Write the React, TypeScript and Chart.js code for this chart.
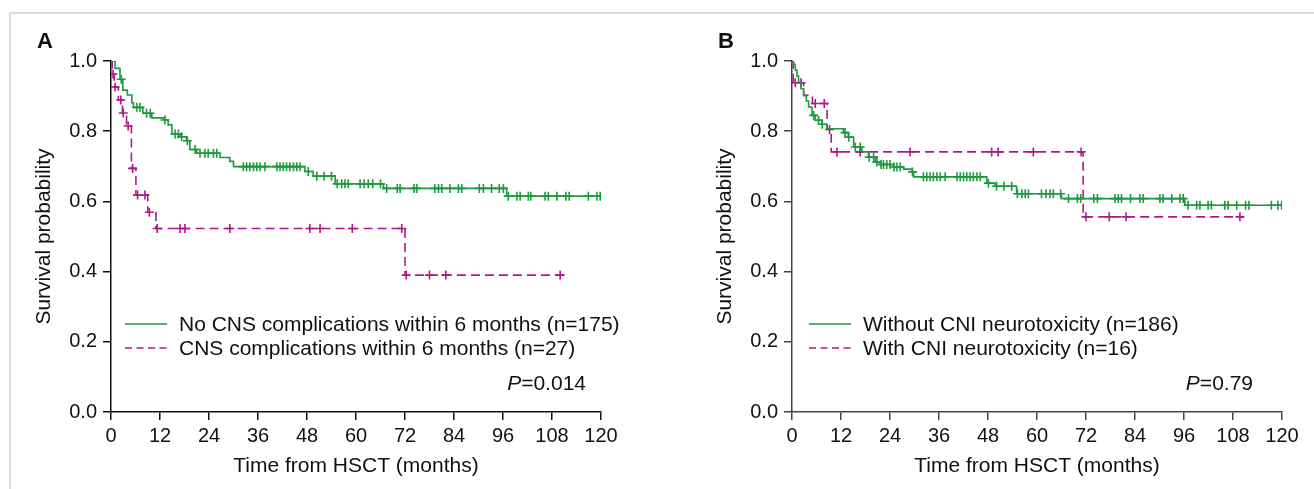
import React, { useEffect, useRef } from "react";
import { Chart, registerables } from "chart.js";

Chart.register(...registerables);

// ---------- axis ticks ----------
const X_TICKS = [0, 12, 24, 36, 48, 60, 72, 84, 96, 108, 120];
const Y_TICKS = [0, 0.2, 0.4, 0.6, 0.8, 1.0];

// ---------- Panel A ----------
const A_GREEN_T = [0, 1.0, 2.2, 2.9, 4.0, 5.1, 5.5, 7.8, 10.0, 13.1, 14.0, 14.9, 16.9, 18.5, 19.3, 21.0, 26.7, 29.1, 30.0, 47.5, 49.5, 54.9, 66.7, 96.9];
const A_GREEN_S = [1.0, 0.979, 0.948, 0.917, 0.903, 0.881, 0.868, 0.851, 0.838, 0.832, 0.818, 0.792, 0.784, 0.773, 0.748, 0.737, 0.725, 0.714, 0.699, 0.685, 0.672, 0.65, 0.637, 0.615];
const A_GREEN_END = 120;
const A_GREEN_CENSOR = [2.5, 6.3, 7.1, 8.7, 9.6, 13.2, 15.7, 16.5, 17.3, 18.7, 20.6, 21.8, 23.0, 23.8, 25.1, 25.9, 32.4, 33.2, 34.0, 34.9, 35.7, 36.5, 37.7, 40.6, 41.4, 42.2, 43.0, 43.8, 44.7, 45.5, 46.3, 48.3, 50.4, 52.2, 54.0, 55.4, 56.5, 57.3, 58.1, 61.0, 62.0, 63.0, 64.1, 66.0, 67.5, 70.1, 70.8, 74.2, 74.9, 79.3, 80.2, 81.0, 83.0, 85.1, 85.9, 90.2, 91.2, 93.2, 95.1, 96.1, 97.3, 99.4, 100.2, 102.2, 102.8, 106.3, 107.1, 109.2, 111.4, 112.2, 116.9, 119.0, 119.8];

const A_MAG_T = [0, 0.3, 0.8, 1.8, 2.8, 3.8, 5.0, 6.1, 9.0, 11.0, 72.0];
const A_MAG_S = [1.0, 0.963, 0.926, 0.889, 0.852, 0.815, 0.694, 0.618, 0.569, 0.523, 0.39];
const A_MAG_END = 110.8;
const A_MAG_CENSOR = [0.5, 1.0, 2.4, 3.0, 4.2, 5.3, 6.5, 8.3, 9.4, 11.3, 16.9, 18.1, 29.1, 48.7, 51.2, 59.1, 71.2, 72.3, 78.0, 82.0, 110.0];

// ---------- Panel B ----------
const B_GREEN_T = [0, 0.4, 0.8, 1.2, 1.6, 2.2, 2.85, 3.5, 4.06, 4.9, 5.7, 7.3, 8.56, 12.6, 13.8, 15.1, 17.1, 18.7, 20.4, 21.6, 24.9, 27.3, 29.4, 29.8, 47.7, 49.7, 55.0, 66.0, 96.2];
const B_GREEN_S = [1.0, 0.99, 0.974, 0.957, 0.94, 0.921, 0.902, 0.886, 0.869, 0.845, 0.831, 0.82, 0.807, 0.796, 0.783, 0.755, 0.741, 0.726, 0.712, 0.705, 0.698, 0.692, 0.684, 0.67, 0.652, 0.643, 0.622, 0.608, 0.589];
const B_GREEN_END = 120;
const B_GREEN_CENSOR = [5.3, 6.5, 7.4, 13.0, 13.9, 15.5, 16.7, 18.9, 20.0, 20.8, 21.8, 22.4, 23.2, 24.0, 25.0, 25.7, 26.5, 29.5, 32.2, 33.0, 33.8, 34.6, 35.5, 36.3, 37.5, 40.4, 41.2, 42.0, 42.8, 43.6, 44.4, 45.3, 46.1, 48.1, 50.1, 51.9, 53.8, 55.2, 56.3, 57.1, 57.9, 61.1, 62.2, 63.2, 64.0, 65.8, 67.7, 69.9, 70.7, 73.9, 74.8, 79.1, 79.9, 80.7, 82.9, 85.2, 86.0, 90.1, 90.9, 93.0, 95.0, 95.8, 97.0, 99.1, 99.9, 101.9, 102.7, 106.0, 106.8, 108.9, 111.1, 111.9, 117.4, 119.0, 119.9];

const B_MAG_T = [0, 0.3, 2.85, 5.0, 8.6, 9.6, 71.3];
const B_MAG_S = [1.0, 0.938, 0.902, 0.879, 0.805, 0.741, 0.556];
const B_MAG_END = 110.5;
const B_MAG_CENSOR = [0.8, 2.2, 5.7, 7.9, 9.2, 11.0, 16.7, 28.9, 48.9, 50.5, 59.1, 70.8, 72.0, 77.7, 81.8, 109.7];

// ---------- styles ----------
const GREEN = "#1d9a3e";
const MAGENTA = "#b0188a";
const FONT = "'Liberation Sans', Arial, Helvetica, sans-serif";
const TEXT = "#111111";

function survAt(times: number[], surv: number[], t: number) {
  let s = surv[0];
  for (let i = 0; i < times.length; i++) if (times[i] <= t) s = surv[i];
  return s;
}

function stepData(times: number[], surv: number[], end: number) {
  const pts = times.map((t, i) => ({ x: t, y: surv[i] }));
  pts.push({ x: end, y: surv[surv.length - 1] });
  return pts;
}

function censorData(times: number[], surv: number[], cens: number[]) {
  return cens.map((t) => ({ x: t, y: survAt(times, surv, t) }));
}

type Curve = { t: number[]; s: number[]; end: number; c: number[]; color: string; dash: number[] };

function KMChart(props: { left: number; width: number; padRight: number; axisColor: string; curves: Curve[] }) {
  const ref = useRef<HTMLCanvasElement | null>(null);
  useEffect(() => {
    if (!ref.current) return;
    const datasets: any[] = [];
    props.curves.forEach((cv, i) => {
      datasets.push({
        type: "line",
        data: stepData(cv.t, cv.s, cv.end),
        borderColor: cv.color,
        borderWidth: 1.6,
        borderDash: cv.dash,
        stepped: "before",
        pointRadius: 0,
        fill: false,
        order: i === 0 ? 1 : 3,
      });
      datasets.push({
        type: "line",
        data: censorData(cv.t, cv.s, cv.c),
        showLine: false,
        pointStyle: "cross",
        pointRadius: 4.5,
        pointBorderWidth: 1.6,
        pointBorderColor: cv.color,
        pointBackgroundColor: cv.color,
        order: i === 0 ? 0 : 2,
      });
    });
    const tickFont = { family: FONT, size: 20 };
    const titleFont = { family: FONT, size: 21 };
    const chart = new Chart(ref.current, {
      type: "line",
      data: { datasets },
      options: {
        animation: false,
        responsive: false,
        maintainAspectRatio: false,
        layout: { padding: { left: 0, top: 61, right: props.padRight, bottom: 0 } },
        plugins: { legend: { display: false }, tooltip: { enabled: false } },
        scales: {
          x: {
            type: "linear",
            min: 0,
            max: 120,
            afterBuildTicks: (s: any) => {
              s.ticks = X_TICKS.map((v) => ({ value: v }));
            },
            afterFit: (s: any) => {
              s.height = 77;
            },
            ticks: { font: tickFont, color: TEXT, padding: 4, maxRotation: 0, autoSkip: false },
            grid: { drawOnChartArea: false, drawTicks: true, tickLength: 8, color: props.axisColor, lineWidth: 1.5 },
            border: { display: true, color: props.axisColor, width: 1.5 },
            title: { display: true, text: "Time from HSCT (months)", font: titleFont, color: TEXT, padding: { top: 0, bottom: 10 } },
          },
          y: {
            type: "linear",
            min: 0,
            max: 1,
            afterBuildTicks: (s: any) => {
              s.ticks = Y_TICKS.map((v) => ({ value: v }));
            },
            afterFit: (s: any) => {
              s.width = 111;
            },
            ticks: { font: tickFont, color: TEXT, padding: 6, callback: (v: any) => Number(v).toFixed(1) },
            grid: { drawOnChartArea: false, drawTicks: true, tickLength: 8, color: props.axisColor, lineWidth: 1.5 },
            border: { display: true, color: props.axisColor, width: 1.5 },
            title: { display: true, text: "Survival probability", font: titleFont, color: TEXT, padding: { top: 32, bottom: 0 } },
          },
        },
      } as any,
    });
    return () => chart.destroy();
  }, []);
  return (
    <canvas
      ref={ref}
      width={props.width}
      height={489}
      style={{ position: "absolute", left: props.left, top: 0, width: props.width, height: 489 }}
    />
  );
}

function LegendLine(props: { color: string; dashed: boolean }) {
  return (
    <svg width={42} height={24} style={{ display: "block", flex: "none" }}>
      <line
        x1={0}
        y1={12}
        x2={42}
        y2={12}
        stroke={props.color}
        strokeWidth={1.5}
        strokeDasharray={props.dashed ? "7 4.5" : undefined}
      />
    </svg>
  );
}

function Legend(props: { left: number; items: { label: string; color: string; dashed: boolean }[] }) {
  return (
    <div style={{ position: "absolute", left: props.left, top: 312, fontFamily: FONT, fontSize: 21, color: TEXT, lineHeight: "24px" }}>
      {props.items.map((it, i) => (
        <div key={i} style={{ display: "flex", alignItems: "center", height: 24, whiteSpace: "nowrap" }}>
          <LegendLine color={it.color} dashed={it.dashed} />
          <span style={{ marginLeft: 12 }}>{it.label}</span>
        </div>
      ))}
    </div>
  );
}

function PValue(props: { right: number; value: string }) {
  return (
    <div
      style={{
        position: "absolute",
        right: 1314 - props.right,
        top: 371,
        fontFamily: FONT,
        fontSize: 21,
        lineHeight: "24px",
        color: TEXT,
        whiteSpace: "nowrap",
      }}
    >
      <i>P</i>={props.value}
    </div>
  );
}

function PanelLetter(props: { left: number; text: string }) {
  return (
    <div
      style={{
        position: "absolute",
        left: props.left,
        top: 29,
        fontFamily: FONT,
        fontSize: 22,
        fontWeight: "bold",
        lineHeight: "24px",
        color: TEXT,
      }}
    >
      {props.text}
    </div>
  );
}

export default function App() {
  return (
    <div style={{ position: "fixed", left: 0, top: 0, width: 1314, height: 489, background: "#fff", overflow: "hidden" }}>
      <div
        style={{
          position: "absolute",
          left: 9,
          top: 12,
          width: 1320,
          height: 500,
          borderTop: "2px solid #dadada",
          borderLeft: "2px solid #dadada",
        }}
      />
      <KMChart
        left={0}
        width={657}
        padRight={56}
        axisColor="#111111"
        curves={[
          { t: A_GREEN_T, s: A_GREEN_S, end: A_GREEN_END, c: A_GREEN_CENSOR, color: GREEN, dash: [] },
          { t: A_MAG_T, s: A_MAG_S, end: A_MAG_END, c: A_MAG_CENSOR, color: MAGENTA, dash: [9, 5] },
        ]}
      />
      <KMChart
        left={681}
        width={633}
        padRight={32}
        axisColor="#444444"
        curves={[
          { t: B_GREEN_T, s: B_GREEN_S, end: B_GREEN_END, c: B_GREEN_CENSOR, color: GREEN, dash: [] },
          { t: B_MAG_T, s: B_MAG_S, end: B_MAG_END, c: B_MAG_CENSOR, color: MAGENTA, dash: [9, 5] },
        ]}
      />
      <PanelLetter left={37} text="A" />
      <PanelLetter left={718} text="B" />
      <Legend
        left={125}
        items={[
          { label: "No CNS complications within 6 months (n=175)", color: GREEN, dashed: false },
          { label: "CNS complications within 6 months (n=27)", color: MAGENTA, dashed: true },
        ]}
      />
      <Legend
        left={809}
        items={[
          { label: "Without CNI neurotoxicity (n=186)", color: GREEN, dashed: false },
          { label: "With CNI neurotoxicity (n=16)", color: MAGENTA, dashed: true },
        ]}
      />
      <PValue right={586} value="0.014" />
      <PValue right={1253} value="0.79" />
    </div>
  );
}
